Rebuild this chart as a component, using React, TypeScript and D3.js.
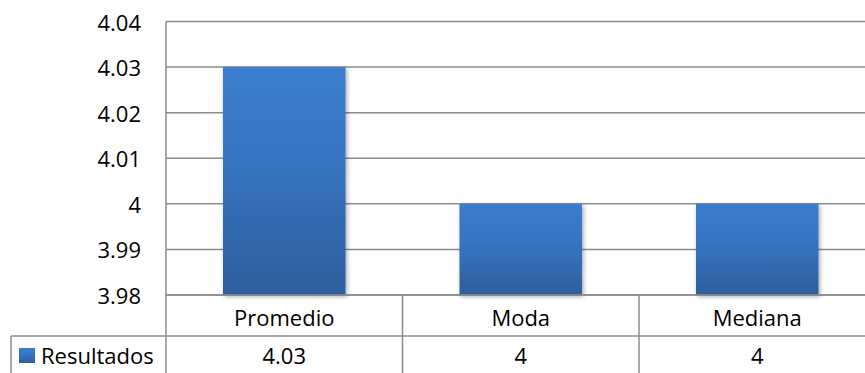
import React from "react";
import * as d3 from "d3";

const categories = ["Promedio", "Moda", "Mediana"];
const resultados = [4.03, 4, 4];
const tableLabels = ["4.03", "4", "4"];
const yTicks = [3.98, 3.99, 4.0, 4.01, 4.02, 4.03, 4.04];
const seriesName = "Resultados";

const W = 865;
const H = 373;
const plot = { left: 166, right: 875.5, top: 21.5, bottom: 295 };
const rowBottom = 336;
const tableLeft = 11;
const FONT = "'Open Sans', 'Noto Sans', sans-serif";
const FS = 22;
const GRID = "#8c8c8c";

export default function App() {
  const x = d3
    .scaleBand<string>()
    .domain(categories)
    .range([plot.left, plot.right])
    .paddingInner(0)
    .paddingOuter(0);
  const band = x.bandwidth();
  const barW = band / 1.93;

  const y = d3.scaleLinear().domain([3.98, 4.04]).range([plot.bottom, plot.top]);
  const fmt = (v: number) => d3.format(".2~f")(v);

  return (
    <div style={{ position: "fixed", left: 0, top: 0 }}>
      <svg width={W} height={H} style={{ display: "block", background: "#fff" }}>
        <defs>
          <linearGradient id="barFill" x1="0" y1="0" x2="0" y2="1">
            <stop offset="0%" stopColor="#3b7dce" />
            <stop offset="40%" stopColor="#3775c2" />
            <stop offset="100%" stopColor="#2d5e9d" />
          </linearGradient>
          <filter id="barShadow" x="-10%" y="-10%" width="130%" height="130%">
            <feDropShadow dx="1.5" dy="1.5" stdDeviation="2" floodColor="#000" floodOpacity="0.35" />
          </filter>
        </defs>

        {/* horizontal gridlines */}
        {yTicks.map((t) => (
          <line
            key={t}
            x1={plot.left}
            x2={W}
            y1={y(t)}
            y2={y(t)}
            stroke={GRID}
            strokeWidth={1.5}
          />
        ))}

        {/* y tick labels */}
        {yTicks.map((t) => (
          <text
            key={"l" + t}
            x={141}
            y={y(t)}
            textAnchor="end"
            dominantBaseline="central"
            fontFamily={FONT}
            fontSize={FS}
            fill="#000"
          >
            {fmt(t)}
          </text>
        ))}

        {/* bars */}
        {categories.map((c, i) => (
          <rect
            key={c}
            x={x(c)! + (band - barW) / 2}
            y={y(resultados[i])}
            width={barW}
            height={plot.bottom - y(resultados[i])}
            fill="url(#barFill)"
            filter="url(#barShadow)"
          />
        ))}

        {/* data table grid */}
        <line x1={plot.left} x2={plot.left} y1={plot.top} y2={H} stroke={GRID} strokeWidth={1.5} />
        <line x1={plot.left} x2={W} y1={plot.bottom} y2={plot.bottom} stroke={GRID} strokeWidth={1.5} />
        <line x1={tableLeft} x2={W} y1={rowBottom} y2={rowBottom} stroke={GRID} strokeWidth={1.5} />
        <line x1={tableLeft} x2={tableLeft} y1={rowBottom} y2={H} stroke={GRID} strokeWidth={1.5} />
        {categories.slice(1).map((c) => (
          <line key={"d" + c} x1={x(c)!} x2={x(c)!} y1={plot.bottom} y2={H} stroke={GRID} strokeWidth={1.5} />
        ))}

        {/* category names */}
        {categories.map((c) => (
          <text
            key={"c" + c}
            x={x(c)! + band / 2}
            y={(plot.bottom + rowBottom) / 2 + 1}
            textAnchor="middle"
            dominantBaseline="central"
            fontFamily={FONT}
            fontSize={FS}
            fill="#000"
          >
            {c}
          </text>
        ))}

        {/* values row */}
        {categories.map((c, i) => (
          <text
            key={"v" + c}
            x={x(c)! + band / 2}
            y={rowBottom + 19}
            textAnchor="middle"
            dominantBaseline="central"
            fontFamily={FONT}
            fontSize={FS}
            fill="#000"
          >
            {tableLabels[i]}
          </text>
        ))}

        {/* legend key and series name */}
        <rect x={19} y={348} width={16} height={15} fill="url(#barFill)" />
        <text
          x={41}
          y={rowBottom + 19}
          dominantBaseline="central"
          fontFamily={FONT}
          fontSize={FS}
          fill="#000"
        >
          {seriesName}
        </text>
      </svg>
    </div>
  );
}
